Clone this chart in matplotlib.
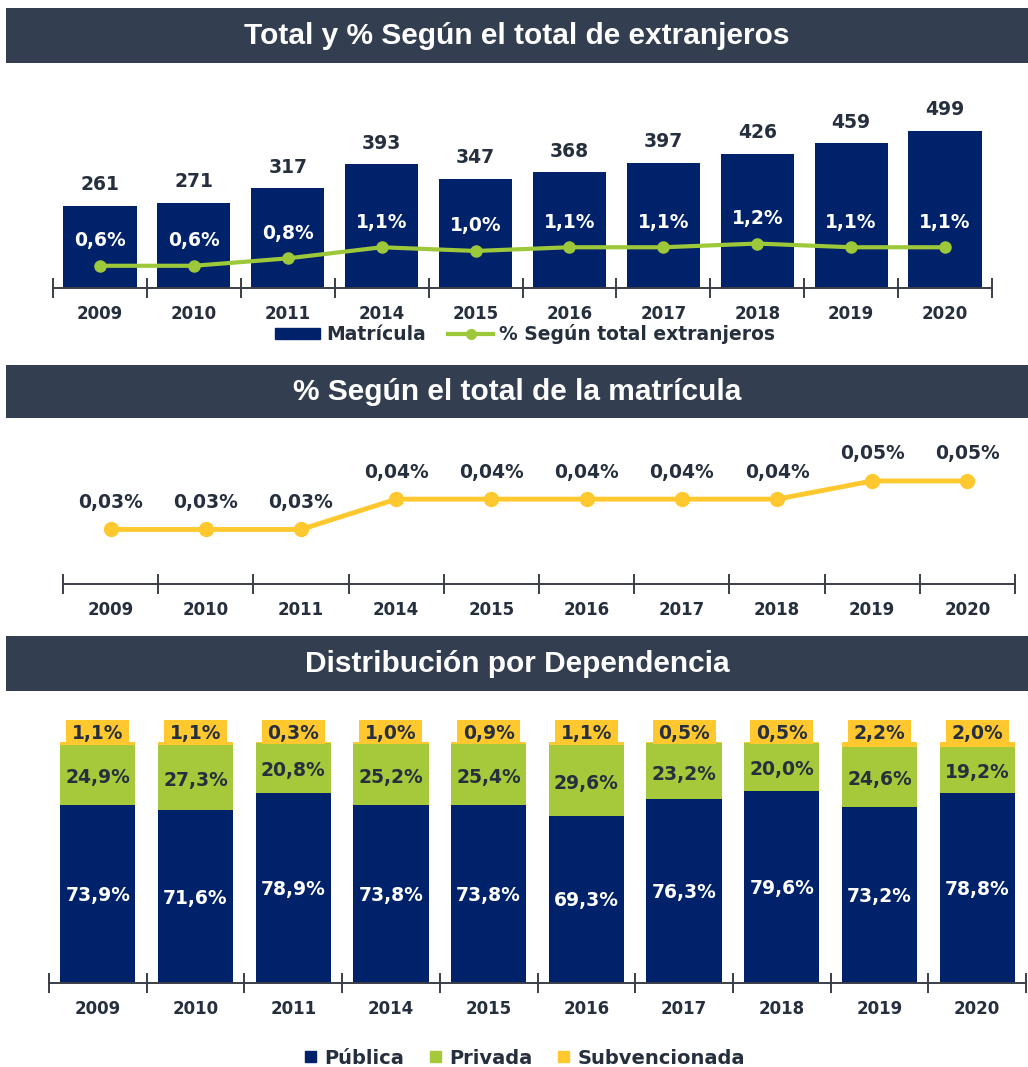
import matplotlib
matplotlib.use("Agg")
import matplotlib.pyplot as plt
from matplotlib.patches import Rectangle
from matplotlib.lines import Line2D
import numpy as np

plt.rcParams['font.family'] = ['DejaVu Sans']
plt.rcParams['font.weight'] = 'bold'

# ---------------- data ----------------
years = ['2009', '2010', '2011', '2014', '2015', '2016', '2017', '2018', '2019', '2020']
matricula = [261, 271, 317, 393, 347, 368, 397, 426, 459, 499]
pct_extranjeros = [0.6, 0.6, 0.8, 1.1, 1.0, 1.1, 1.1, 1.2, 1.1, 1.1]
pct_matricula = [0.027, 0.027, 0.027, 0.042, 0.042, 0.042, 0.042, 0.042, 0.051, 0.051]
publica = [73.9, 71.6, 78.9, 73.8, 73.8, 69.3, 76.3, 79.6, 73.2, 78.8]
privada = [24.9, 27.3, 20.8, 25.2, 25.4, 29.6, 23.2, 20.0, 24.6, 19.2]
subvencionada = [1.1, 1.1, 0.3, 1.0, 0.9, 1.1, 0.5, 0.5, 2.2, 2.0]

titles = ['Total y % Según el total de extranjeros',
          '% Según el total de la matrícula',
          'Distribución por Dependencia']

# ---------------- style ----------------
NAVY = '#00226A'
GREEN = '#A5C93A'
LGREEN = '#9DC83A'
YELLOW = '#FFC82E'
HEADER = '#333F50'
DARK = '#262F3D'
AXIS = '#3A3F47'
LBL = 13.5
TICK = 12

W, H = 1028, 1067
fig = plt.figure(figsize=(W / 100, H / 100), dpi=100)


def rect(x0, y0, x1, y1):
    return [x0 / W, 1 - y1 / H, (x1 - x0) / W, (y1 - y0) / H]


def header(y0, y1, text):
    ax = fig.add_axes(rect(6, y0, W, y1))
    ax.set_xlim(0, 1)
    ax.set_ylim(0, 1)
    ax.axis('off')
    ax.add_patch(Rectangle((0, 0), 1, 1, color=HEADER, transform=ax.transAxes))
    ax.text(0.5, 0.5, text, color='white', fontsize=21.5, fontweight='heavy',
            family=['Liberation Sans', 'DejaVu Sans'],
            ha='center', va='center', transform=ax.transAxes)


def style_xaxis(ax):
    n = len(years)
    ax.set_xlim(-0.5, n - 0.5)
    for s in ['top', 'right', 'left']:
        ax.spines[s].set_visible(False)
    ax.spines['bottom'].set_color(AXIS)
    ax.spines['bottom'].set_linewidth(1.4)
    ax.set_yticks([])
    ax.set_xticks(np.arange(n + 1) - 0.5, minor=False)
    ax.set_xticklabels([])
    ax.tick_params(axis='x', which='major', direction='inout', length=14,
                   width=1.4, color=AXIS)
    ax.set_xticks(np.arange(n), minor=True)
    ax.set_xticklabels(years, minor=True)
    ax.tick_params(axis='x', which='minor', length=0, pad=12,
                   labelsize=TICK, labelcolor=DARK)
    for t in ax.get_xticklabels(minor=True):
        t.set_fontweight('bold')
    ax.patch.set_alpha(0)


x = np.arange(len(years))

# ---------------- panel 1 ----------------
header(8, 63, titles[0])
ax1 = fig.add_axes(rect(53, 80, 992, 288))
ax1.bar(x, matricula, width=0.78, color=NAVY, zorder=2)
ax1.set_ylim(0, 208 * 3.17)
style_xaxis(ax1)
for xi, v in zip(x, matricula):
    ax1.annotate(f'{v}', (xi, v), xytext=(0, 15), textcoords='offset points',
                 ha='center', va='center', fontsize=LBL, fontweight='bold', color=DARK)
ax1b = ax1.twinx()
ax1b.set_ylim(0, 208 * 0.027)
ax1b.plot(x, pct_extranjeros, color=LGREEN, lw=3, marker='o', ms=8, zorder=3)
ax1b.axis('off')
for xi, v in zip(x, pct_extranjeros):
    ax1b.annotate(f'{v:.1f}%'.replace('.', ','), (xi, v), xytext=(0, 18),
                  textcoords='offset points', ha='center', va='center',
                  fontsize=LBL, fontweight='bold', color='white')

leg1 = [Rectangle((0, 0), 1, 1, color=NAVY),
        Line2D([0], [0], color=LGREEN, lw=3, marker='o', ms=7)]
fig.legend(leg1, ['Matrícula', '% Según total extranjeros'],
           loc='center', bbox_to_anchor=(525 / W, 1 - 334 / H), ncol=2,
           frameon=False, handlelength=2.4, handleheight=0.5,
           columnspacing=1.2, handletextpad=0.3,
           prop={'weight': 'bold', 'size': 13.5})
for t in fig.legends[-1].get_texts():
    t.set_color(DARK)

# ---------------- panel 2 ----------------
header(365, 418, titles[1])
ax2 = fig.add_axes(rect(63, 430, 1015, 584))
ax2.plot(x, pct_matricula, color=YELLOW, lw=3.5, marker='o', ms=10, zorder=3)
ax2.set_ylim(0, 154 * 0.000495)
style_xaxis(ax2)
for xi, v in zip(x, pct_matricula):
    ax2.annotate(f'{v:.2f}%'.replace('.', ','), (xi, v), xytext=(0, 19.5),
                 textcoords='offset points', ha='center', va='center',
                 fontsize=LBL, fontweight='bold', color=DARK)

# ---------------- panel 3 ----------------
header(636, 691, titles[2])
ax3 = fig.add_axes(rect(49, 700, 1026, 983))
ax3.set_ylim(0, 283 / 2.41)
pub = np.array(publica)
pri = np.array(privada)
sub = np.array(subvencionada)
tot = pub + pri + sub
ax3.bar(x, pub, width=0.77, color=NAVY, zorder=2)
ax3.bar(x, pri, bottom=pub, width=0.77, color=GREEN, zorder=2)
ax3.bar(x, sub, bottom=pub + pri, width=0.77, color=YELLOW, zorder=2)
# label background boxes for the small top segment
ax3.bar(x, 10, bottom=tot - 0.8, width=0.645, color=YELLOW, zorder=3)
style_xaxis(ax3)
for xi, p, q, s, t in zip(x, pub, pri, sub, tot):
    ax3.text(xi, p / 2 - 0.6, f'{p:.1f}%'.replace('.', ','), ha='center', va='center',
             fontsize=LBL, fontweight='bold', color='white', zorder=4)
    ax3.text(xi, p + q / 2 - 1.2, f'{q:.1f}%'.replace('.', ','), ha='center', va='center',
             fontsize=LBL, fontweight='bold', color=DARK, zorder=4)
    ax3.text(xi, t + 3.6, f'{s:.1f}%'.replace('.', ','), ha='center', va='center',
             fontsize=LBL, fontweight='bold', color=DARK, zorder=4)

leg3 = [Rectangle((0, 0), 1, 1, color=c) for c in (NAVY, GREEN, YELLOW)]
fig.legend(leg3, ['Pública', 'Privada', 'Subvencionada'],
           loc='center', bbox_to_anchor=(525 / W, 1 - 1058 / H), ncol=3,
           frameon=False, handlelength=0.55, handleheight=0.55,
           columnspacing=1.3, handletextpad=0.45,
           prop={'weight': 'bold', 'size': 14})
for t in fig.legends[-1].get_texts():
    t.set_color(DARK)

fig.savefig('out.png', dpi=100, facecolor='white')
